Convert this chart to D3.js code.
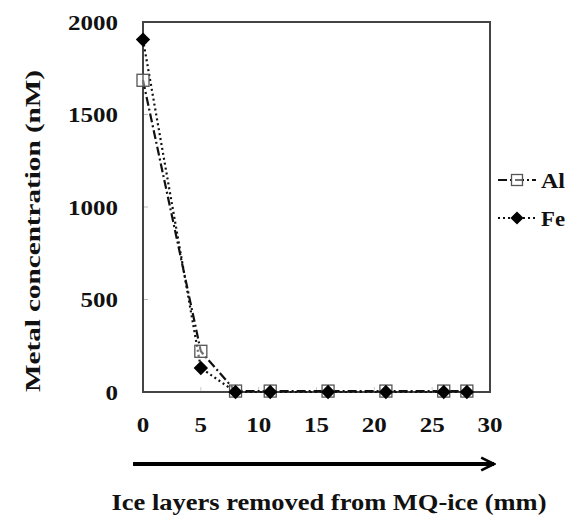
<!DOCTYPE html>
<html>
<head>
<meta charset="utf-8">
<script src="https://cdn.jsdelivr.net/npm/d3@7"></script>
<style>
  body { margin: 0; background: #fff; }
  text { font-family: "Liberation Serif", "Times New Roman", serif; font-weight: bold; fill: #111; }
</style>
</head>
<body>
<div id="chart"></div>
<script>

// data
var depth = [0, 5, 8, 11, 16, 21, 26, 28];
var alConc = [1685, 220, 5, 5, 5, 5, 5, 5];
var feConc = [1905, 130, 0, 0, 0, 0, 0, 0];
var xTicks = [0, 5, 10, 15, 20, 25, 30];
var yTicks = [0, 500, 1000, 1500, 2000];

var W = 576, H = 517;
var margin = { top: 22, right: 86, bottom: 125, left: 143 };
var width = W - margin.left - margin.right,
    height = H - margin.top - margin.bottom;

var svg = d3.select('#chart').append('svg')
    .attr('width', W).attr('height', H);

var g = svg.append('g')
    .attr('transform', 'translate(' + margin.left + ',' + margin.top + ')');

// scales
var x = d3.scaleLinear().domain([0, 30]).range([0, width]);
var y = d3.scaleLinear().domain([0, 2000]).range([height, 0]);

// inner ticks (faint)
g.selectAll('.ytick').data(yTicks.slice(1, -1)).enter()
  .append('line')
    .attr('x1', 0).attr('x2', 5)
    .attr('y1', function(d) { return y(d); })
    .attr('y2', function(d) { return y(d); })
    .attr('stroke', '#bbb').attr('stroke-width', 1);
g.selectAll('.xtick').data(xTicks.slice(1, -1)).enter()
  .append('line')
    .attr('x1', function(d) { return x(d); })
    .attr('x2', function(d) { return x(d); })
    .attr('y1', height).attr('y2', height - 5)
    .attr('stroke', '#ccc').attr('stroke-width', 1);

// tick labels (stretched like the original)
var digitW = 12.5;
g.selectAll('.ylab').data(yTicks).enter()
  .append('text')
    .attr('x', -25)
    .attr('y', function(d) { return y(d); })
    .attr('dy', '0.35em')
    .attr('text-anchor', 'end')
    .attr('textLength', function(d) { return String(d).length * digitW; })
    .attr('lengthAdjust', 'spacingAndGlyphs')
    .style('font-size', '22px')
    .text(function(d) { return d; });
g.selectAll('.xlab').data(xTicks).enter()
  .append('text')
    .attr('x', function(d) { return x(d); })
    .attr('y', height + 40)
    .attr('text-anchor', 'middle')
    .attr('textLength', function(d) { return String(d).length * digitW; })
    .attr('lengthAdjust', 'spacingAndGlyphs')
    .style('font-size', '22px')
    .text(function(d) { return d; });

// frame
g.append('rect')
    .attr('x', 0).attr('y', 0)
    .attr('width', width).attr('height', height)
    .attr('fill', 'none')
    .attr('stroke', '#444').attr('stroke-width', 2);

// series
var series = [
  { name: 'Al', values: alConc, dash: '9,3,2,3', marker: 'square' },
  { name: 'Fe', values: feConc, dash: '2,3', marker: 'diamond' }
];

var line = d3.line()
    .x(function(d) { return x(d[0]); })
    .y(function(d) { return y(d[1]); });

series.forEach(function(s) {
  var pts = depth.map(function(d, i) { return [d, s.values[i]]; });
  g.append('path')
      .datum(pts)
      .attr('d', line)
      .attr('fill', 'none')
      .attr('stroke', '#111')
      .attr('stroke-width', 2.2)
      .attr('stroke-dasharray', s.dash);
});

function drawMarker(sel, type, cx, cy, sz) {
  if (type === 'square') {
    sel.append('rect')
      .attr('x', cx - sz / 2).attr('y', cy - sz / 2)
      .attr('width', sz).attr('height', sz)
      .attr('fill', '#fff').attr('fill-opacity', 0.4)
      .attr('stroke', '#555').attr('stroke-width', 1.3);
  } else {
    var r = sz * 0.6;
    sel.append('path')
      .attr('d', 'M' + cx + ',' + (cy - r) + 'L' + (cx + r) + ',' + cy +
                 'L' + cx + ',' + (cy + r) + 'L' + (cx - r) + ',' + cy + 'Z')
      .attr('fill', '#000');
  }
}

series.forEach(function(s) {
  depth.forEach(function(d, i) {
    drawMarker(g, s.marker, x(d), y(s.values[i]), 12);
  });
});

// legend
var leg = svg.append('g');
series.forEach(function(s, i) {
  var ly = 180 + i * 38;
  leg.append('line')
      .attr('x1', 498).attr('x2', 536)
      .attr('y1', ly).attr('y2', ly)
      .attr('stroke', '#111').attr('stroke-width', 2.2)
      .attr('stroke-dasharray', i === 0 ? '9,3,2,3' : '2,3');
  drawMarker(leg, s.marker, 517, ly, 11);
  leg.append('text')
      .attr('x', 541).attr('y', ly)
      .attr('dy', '0.35em')
      .attr('textLength', 24)
      .attr('lengthAdjust', 'spacingAndGlyphs')
      .style('font-size', '22px')
      .text(s.name);
});

// y axis title
svg.append('text')
    .attr('transform', 'translate(40,' + 231 + ') rotate(-90)')
    .attr('text-anchor', 'middle')
    .attr('textLength', 322)
    .attr('lengthAdjust', 'spacingAndGlyphs')
    .style('font-size', '21px')
    .text('Metal concentration (nM)');

// arrow
svg.append('defs').append('marker')
    .attr('id', 'arrowhead')
    .attr('viewBox', '0 0 10 10')
    .attr('refX', 9).attr('refY', 5)
    .attr('markerWidth', 4).attr('markerHeight', 5)
    .attr('markerUnits', 'strokeWidth')
    .attr('orient', 'auto')
  .append('path')
    .attr('d', 'M1,1 L9,5 L1,9')
    .attr('fill', 'none')
    .attr('stroke', '#000')
    .attr('stroke-width', 1.6);

svg.append('line')
    .attr('x1', 133).attr('x2', 494)
    .attr('y1', 464).attr('y2', 464)
    .attr('stroke', '#000').attr('stroke-width', 4)
    .attr('marker-end', 'url(#arrowhead)');

// x axis title
svg.append('text')
    .attr('x', 329).attr('y', 510)
    .attr('text-anchor', 'middle')
    .attr('textLength', 435)
    .attr('lengthAdjust', 'spacingAndGlyphs')
    .style('font-size', '23px')
    .text('Ice layers removed from MQ-ice (mm)');

</script>
</body>
</html>
